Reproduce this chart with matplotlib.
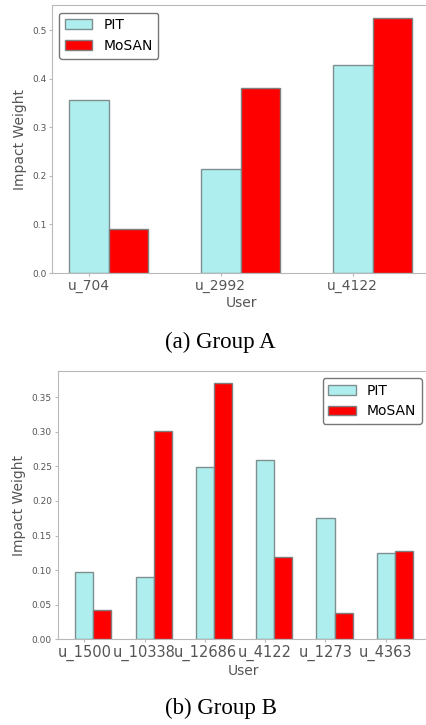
import numpy as np
import matplotlib
matplotlib.use("Agg")
import matplotlib.pyplot as plt

# Group A
users_a = ["u_704", "u_2992", "u_4122"]
pit_a = [0.357, 0.214, 0.428]
mosan_a = [0.090, 0.382, 0.526]

# Group B
users_b = ["u_1500", "u_10338", "u_12686", "u_4122", "u_1273", "u_4363"]
pit_b = [0.098, 0.090, 0.249, 0.260, 0.176, 0.125]
mosan_b = [0.043, 0.301, 0.370, 0.119, 0.038, 0.127]

width = 0.3
grey = "#555555"
spine_c = "#b8b8b8"


def draw(ax, users, pit, mosan, ytick_fmt, xt_size):
    x = np.arange(len(users))
    ax.bar(x, pit, width, color="paleturquoise", edgecolor="#7f8f8f", linewidth=1, label="PIT")
    ax.bar(x + width, mosan, width, color="red", edgecolor="#7f7f7f", linewidth=1, label="MoSAN")
    ax.set_xticks(x)
    ax.set_xticklabels(users, fontsize=xt_size, color=grey)
    ax.tick_params(axis="y", labelsize=6.5, labelcolor=grey, color=spine_c, length=2.5, pad=1.5)
    ax.tick_params(axis="x", color=spine_c, length=2.5, pad=1.5)
    ax.yaxis.set_major_formatter(plt.FormatStrFormatter(ytick_fmt))
    ax.set_xlabel("User", fontsize=10, color=grey)
    ax.set_ylabel("Impact Weight", fontsize=10, color=grey)
    for s in ax.spines.values():
        s.set_color(spine_c)
    ax.spines["right"].set_visible(False)  # cut off in the original


fig = plt.figure(figsize=(4.27, 7.25), dpi=100)

# axes run past the right edge, as in the cropped original
w1 = 1.0
ax1 = fig.add_axes([0.1218, 0.6234, w1, 0.3697])
draw(ax1, users_a, pit_a, mosan_a, "%.1f", 10)
ax1.set_xlim(-0.278, -0.278 + w1 * 427 / 132)
ax1.set_ylim(0, 0.552)
ax1.set_yticks([0.0, 0.1, 0.2, 0.3, 0.4, 0.5])
ax1.xaxis.set_label_coords((241 - 52) / 427, -0.086)
leg = ax1.legend(loc="upper left", fontsize=10, fancybox=True, borderaxespad=0,
                 bbox_to_anchor=(59 / 427, 1 - 12.5 / 725), bbox_transform=fig.transFigure)
leg.get_frame().set_edgecolor(grey)

w2 = 1.0
ax2 = fig.add_axes([0.1347, 0.1182, w2, 0.3701])
draw(ax2, users_b, pit_b, mosan_b, "%.2f", 10.5)
ax2.set_xlim(-0.444, -0.444 + w2 * 427 / 60.3)
ax2.set_ylim(0, 0.388)
ax2.set_yticks([0.0, 0.05, 0.10, 0.15, 0.20, 0.25, 0.30, 0.35])
ax2.xaxis.set_label_coords((243.5 - 57.5) / 427, -0.092)
leg = ax2.legend(loc="upper right", fontsize=10, fancybox=True, borderaxespad=0,
                 bbox_to_anchor=(422 / 427, 1 - 378 / 725), bbox_transform=fig.transFigure)
leg.get_frame().set_edgecolor(grey)

fig.text(0.517, 1 - 342 / 725, "(a) Group A", ha="center", va="center",
         fontsize=16.5, family="Liberation Serif")
fig.text(0.517, 1 - 708 / 725, "(b) Group B", ha="center", va="center",
         fontsize=16.5, family="Liberation Serif")

fig.savefig("out.png", dpi=100)
